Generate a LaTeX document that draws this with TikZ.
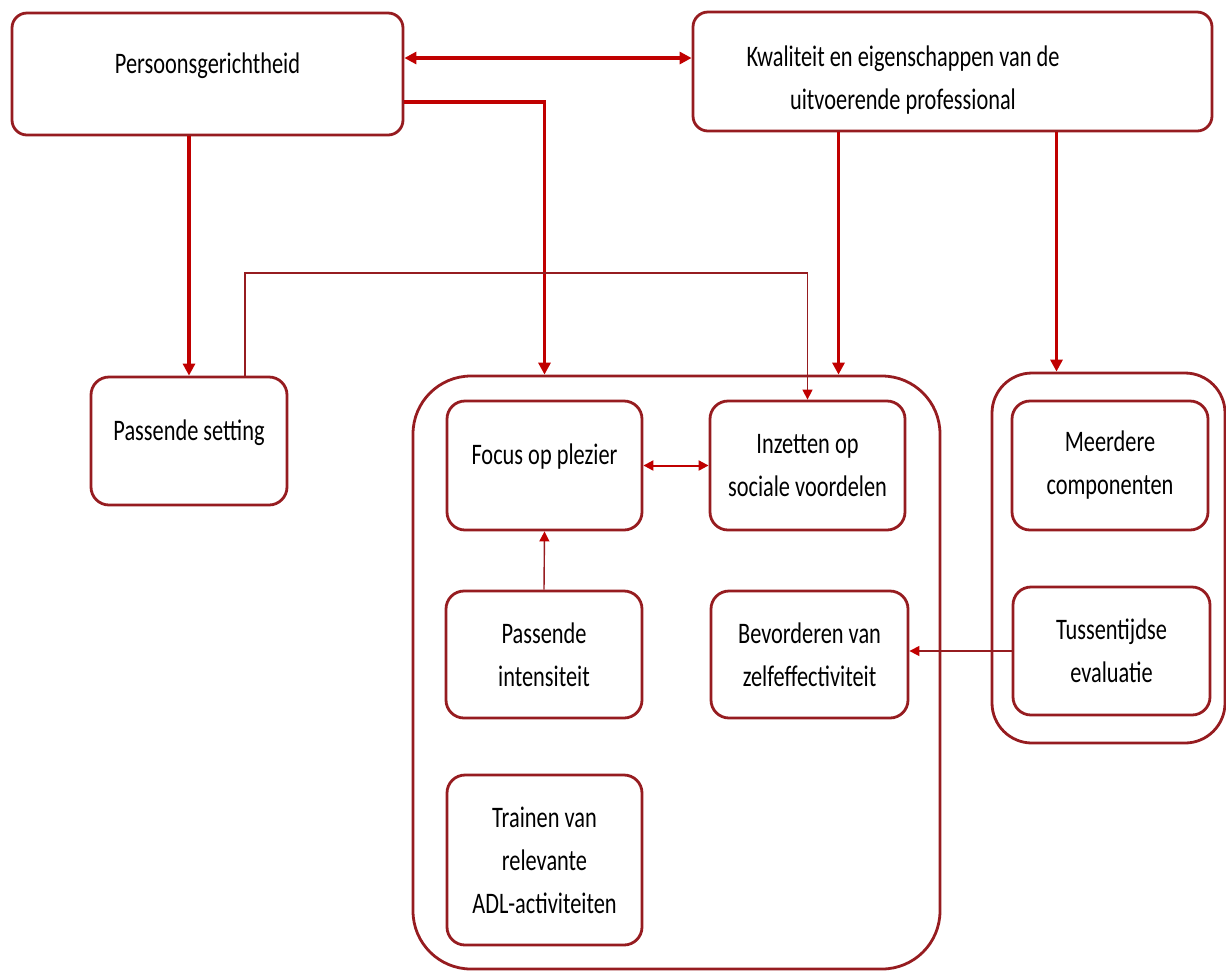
\documentclass[tikz,border=0pt]{standalone}
\usepackage{fontspec}
\setmainfont{Carlito}[FakeStretch=0.75]
\usetikzlibrary{arrows.meta, positioning}

\definecolor{boxred}{RGB}{150,28,32}
\definecolor{arrowred}{RGB}{192,0,0}

\tikzset{
  box/.style={draw=boxred, line width=1.4pt, rounded corners=9pt, align=center,
    inner sep=0pt, font=\fontsize{14.9}{21.5}\selectfont},
  oneline/.style={text height=10.5pt, text depth=11.5pt},
  groupbox/.style={draw=boxred, line width=1.4pt, inner sep=0pt},
  bigarrow/.style={draw=arrowred, line width=1.6pt, -{Triangle[length=6pt,width=6pt]}},
  thinarrow/.style={draw=boxred, line width=0.7pt, -{Triangle[length=5pt,width=5pt,color=arrowred]}},
}

\begin{document}
\begin{tikzpicture}[x=0.5pt, y=-0.5pt]
\useasboundingbox (0,0) rectangle (1226,971);

% Groups
\node[groupbox, rounded corners=29pt, minimum width=263.5pt, minimum height=296.5pt] (group) at (676.5,672.5) {};
\node[groupbox, rounded corners=20pt, minimum width=116.5pt, minimum height=185pt] (rgroup) at (1108.5,558) {};

% Top row
\node[box, oneline, rounded corners=7.5pt, minimum width=195.5pt, minimum height=61pt] (pers) at (207.5,74) {Persoonsgerichtheid};
\node[box, rounded corners=7.5pt, minimum width=259.5pt, minimum height=59.5pt] (kwal) at (952.5,71.5) {};
\node[align=center, inner sep=0pt, font=\fontsize{14.9}{21.5}\selectfont] (kwaltext) at (903,80)
  {Kwaliteit en eigenschappen van de\\uitvoerende professional};

% Left box
\node[box, oneline, minimum width=98pt, minimum height=64pt] (setting) at (189,441) {Passende setting};

% Inner boxes of the big group
\node[box, oneline, minimum width=97.5pt, minimum height=64.5pt] (focus) at (544.5,465.5) {Focus op plezier};
\node[box, minimum width=97.5pt, minimum height=64.5pt] (inzet) at (807.5,465.5) {Inzetten op\\sociale voordelen};
\node[box, minimum width=98pt, minimum height=63.5pt] (intens) at (544,654.5) {Passende\\intensiteit};
\node[box, minimum width=98.5pt, minimum height=63.5pt] (bevord) at (809.5,654.5) {Bevorderen van\\zelfeffectiviteit};
\node[box, minimum width=97.5pt, minimum height=85pt] (train) at (544.5,860) {Trainen van\\relevante\\ADL-activiteiten};

% Inner boxes of the right group
\node[box, minimum width=98pt, minimum height=64.5pt] (meer) at (1110,465.5) {Meerdere\\componenten};
\node[box, minimum width=98.5pt, minimum height=64pt] (tussen) at (1111.5,651) {Tussentijdse\\evaluatie};

% Thick connectors
\draw[bigarrow, {Triangle[length=6pt,width=6pt]}-{Triangle[length=6pt,width=6pt]}]
  ([yshift=8pt]pers.east) -- ([yshift=8pt]pers.east -| kwal.west);
\draw[bigarrow] (setting.north |- pers.south) -- (setting.north);
\draw[bigarrow] ([yshift=-14pt]pers.east) -| (focus.north |- group.north);
\draw[bigarrow] ([xshift=-57pt]kwal.south) -- ([xshift=-57pt]kwal.south |- group.north);
\draw[bigarrow] ([xshift=-26pt]rgroup.north |- kwal.south) -- ([xshift=-26pt]rgroup.north);

% Thin connectors
\coordinate (bend) at (0,273);
\draw[thinarrow] ([xshift=28pt]setting.north) |- (bend -| inzet.north) -- (inzet.north);
\draw[thinarrow] (intens.north) -- (focus.south);
\draw[thinarrow] (tussen.west) -- (tussen.west -| bevord.east);
\draw[draw=arrowred, line width=1pt, {Triangle[length=5pt,width=5pt]}-{Triangle[length=5pt,width=5pt]}]
  (focus.east) -- (inzet.west);

\end{tikzpicture}
\end{document}
